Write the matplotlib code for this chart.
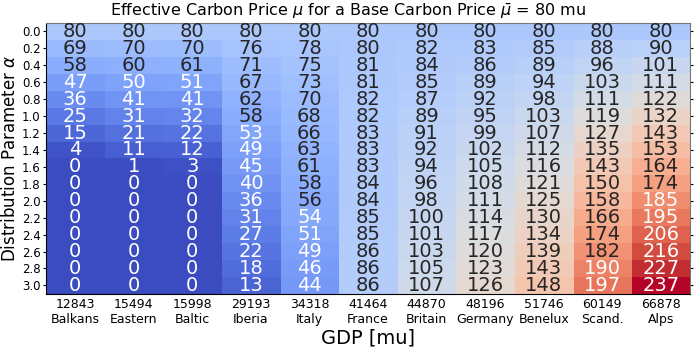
import matplotlib
matplotlib.use("Agg")
import matplotlib.pyplot as plt
import numpy as np

regions = ["Balkans", "Eastern", "Baltic", "Iberia", "Italy", "France",
           "Britain", "Germany", "Benelux", "Scand.", "Alps"]
gdp = [12843, 15494, 15998, 29193, 34318, 41464, 44870, 48196, 51746, 60149, 66878]
alphas = [0.0, 0.2, 0.4, 0.6, 0.8, 1.0, 1.2, 1.4, 1.6, 1.8, 2.0, 2.2, 2.4, 2.6, 2.8, 3.0]

# one list per region, rows follow alphas
balkans = [80, 69, 58, 47, 36, 25, 15, 4, 0, 0, 0, 0, 0, 0, 0, 0]
eastern = [80, 70, 60, 50, 41, 31, 21, 11, 1, 0, 0, 0, 0, 0, 0, 0]
baltic = [80, 70, 61, 51, 41, 32, 22, 12, 3, 0, 0, 0, 0, 0, 0, 0]
iberia = [80, 76, 71, 67, 62, 58, 53, 49, 45, 40, 36, 31, 27, 22, 18, 13]
italy = [80, 78, 75, 73, 70, 68, 66, 63, 61, 58, 56, 54, 51, 49, 46, 44]
france = [80, 80, 81, 81, 82, 82, 83, 83, 83, 84, 84, 85, 85, 86, 86, 86]
britain = [80, 82, 84, 85, 87, 89, 91, 92, 94, 96, 98, 100, 101, 103, 105, 107]
germany = [80, 83, 86, 89, 92, 95, 99, 102, 105, 108, 111, 114, 117, 120, 123, 126]
benelux = [80, 85, 89, 94, 98, 103, 107, 112, 116, 121, 125, 130, 134, 139, 143, 148]
scand = [80, 88, 96, 103, 111, 119, 127, 135, 143, 150, 158, 166, 174, 182, 190, 197]
alps = [80, 90, 101, 111, 122, 132, 143, 153, 164, 174, 185, 195, 206, 216, 227, 237]

data = np.array([balkans, eastern, baltic, iberia, italy, france,
                 britain, germany, benelux, scand, alps]).T

fig = plt.figure(figsize=(6.97, 3.49), dpi=100)
ax = fig.add_axes([0.066, 0.158, 0.924, 0.776])

cmap = plt.get_cmap("coolwarm")
norm = plt.Normalize(vmin=data.min(), vmax=data.max())
ax.imshow(data, cmap=cmap, norm=norm, aspect="auto", interpolation="nearest")

# white text on the saturated ends of the colour map
for i in range(data.shape[0]):
    for j in range(data.shape[1]):
        v = data[i, j]
        c = "white" if abs(norm(v) - 0.5) > 0.27 else "#262626"
        ax.text(j, i, "%d" % v, ha="center", va="center", fontsize=14, color=c)

ax.set_xticks(range(len(regions)))
ax.set_xticklabels(["%d\n%s" % (g, r) for g, r in zip(gdp, regions)], fontsize=9)
ax.set_yticks(range(len(alphas)))
ax.set_yticklabels(["%.1f" % a for a in alphas], fontsize=8.5)
ax.tick_params(axis="y", right=True, length=2.5, pad=1.5)
ax.tick_params(axis="x", length=0, pad=3)
ax.set_xlabel("GDP [mu]", fontsize=14, labelpad=2)
ax.set_ylabel(r"Distribution Parameter $\alpha$", fontsize=12, labelpad=2)
fig.suptitle(r"Effective Carbon Price $\mu$ for a Base Carbon Price $\bar{\mu}$ = 80 mu",
             fontsize=11.5, y=0.995)
for s in ["top", "right"]:
    ax.spines[s].set_color("#777777")

fig.savefig("out.png", dpi=100)
